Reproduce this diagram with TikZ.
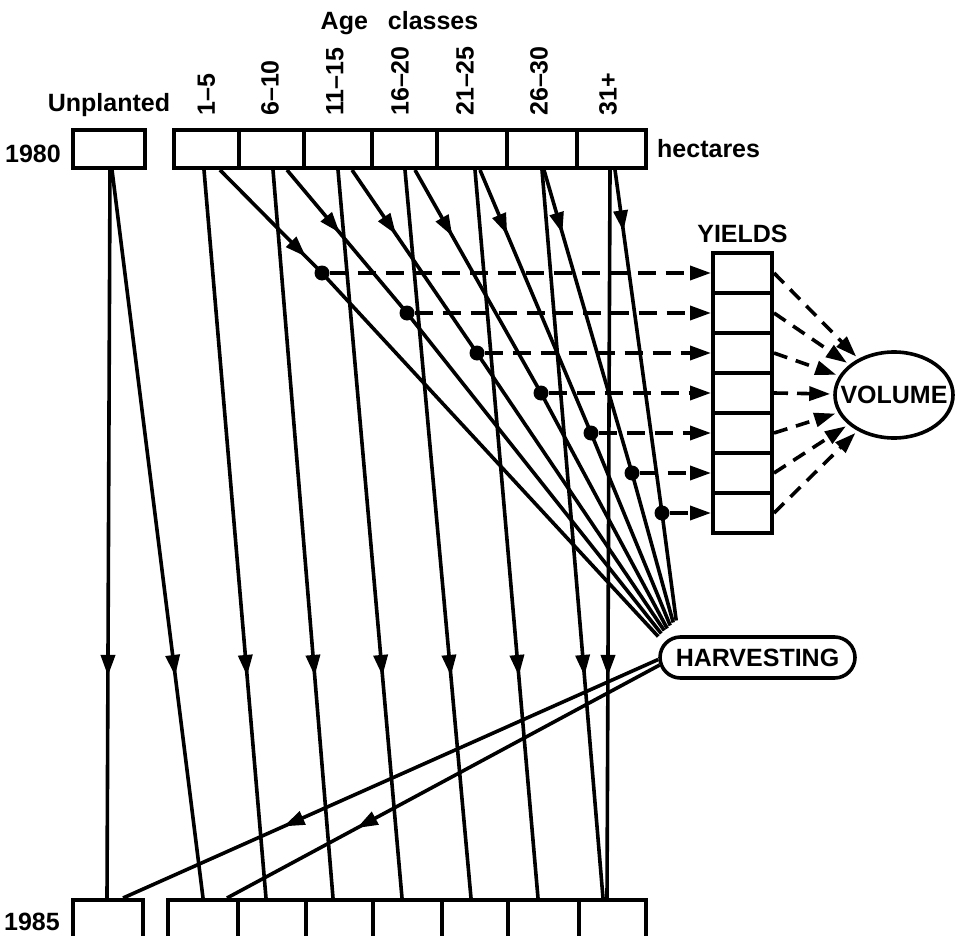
\documentclass[tikz,border=0pt]{standalone}
\usepackage{fontspec}
\setmainfont{Liberation Sans}
\usepackage{tikz}
\usetikzlibrary{positioning,arrows.meta,shapes.geometric,shapes.misc,decorations.markings}

\begin{document}
\begin{tikzpicture}[x=1pt, y=-1pt,
                    every node/.append style = {font=\bfseries\fontsize{25}{29}\selectfont, inner sep=0pt},
                    cell/.style = {draw, line width=4pt, minimum height=38pt},
                    link/.style = {line width=3.6pt},
                    arr/.style = {-{Triangle[length=21pt,width=14pt]}},
                    midarr/.style = {postaction={decorate},
                        decoration={markings, mark=at position #1 with {\arrow{Triangle[length=21pt,width=14pt]}}}},
                    feed/.style = {link, arr, dash pattern=on 18pt off 10pt},
                    junction/.style = {circle, fill, minimum size=15pt}]
    \useasboundingbox (0,0) rectangle (955,936);
    % 1980 row
    \node[cell, minimum width=72pt] (u1) at (109,149) {};
    \foreach \l/\r [count=\k] in {174/239, 239/304, 304/372, 372/437, 437/507, 507/577, 577/646}
        \node[cell, minimum width={(\r-\l)*1pt}] (t\k) at ({(\l+\r)/2},149) {};
    % 1985 row
    \node[cell, minimum width=70pt, minimum height=44pt] (u2) at (108,922) {};
    \foreach \l/\r [count=\k] in {168/238, 238/306, 306/373, 373/442, 442/508, 508/579, 579/646}
        \node[cell, minimum width={(\r-\l)*1pt}, minimum height=44pt] (b\k) at ({(\l+\r)/2},922) {};
    % labels
    \node[anchor=base] (age) at (399.5,30) {Age\hspace{20pt}classes};
    \node[above=16pt of u1, anchor=base] (unpl) {Unplanted};
    \node[left=10pt of u1, yshift=-5pt] (yr80) {1980};
    \node[left=11pt of u2] (yr85) {1985};
    \node[right=9pt of t7] (hect) {hectares};
    \foreach \lab/\o [count=\k] in {1--5/0, 6--10/-1.5, 11--15/-3, 16--20/-4.5, 21--25/-7, 26--30/-3, 31+/-3.5}
        \node[rotate=90, anchor=west] (c\k) at ([xshift=\o pt, yshift=12pt]t\k.north) {\lab};
    % yields, volume, harvesting
    \foreach \k in {1,...,7}
        \node[cell, minimum width=59pt, minimum height=40pt] (y\k) at (742.5,{233+40*\k}) {};
    \node[above=8pt of y1] (yld) {YIELDS};
    \node[draw, ellipse, line width=3.6pt, minimum width=118pt, minimum height=86pt] (vol) at (894,395) {};
    \node (voltxt) at (vol) {VOLUME};
    \node[draw, rounded rectangle, line width=3.6pt, minimum width=195pt, minimum height=41pt] (harv) at (757.5,657.5) {HARVESTING};
    % ageing
    \foreach \s/\a/\e/\b in {u1/1/u2/-1, u1/3/b1/0, t1/-2.5/b2/-6, t2/1.5/b3/-6.5, t3/0/b4/-5.5,
                             t4/0.5/b5/-4, t5/3/b6/-5.5, t6/0/b7/-9.5, t7/-1.5/b7/-5.5}
        \draw[link, midarr=0.695] ([xshift=\a pt]\s.south) -- ([xshift=\b pt]\e.north);
    % cutting
    \foreach \x [count=\k] in {322,407,477,541,591,632,662}
        \node[junction] (d\k) at (\x,{233+40*\k}) {};
    \foreach \o/\p/\dx/\dy [count=\k] in {13.5/122/0/21, 15.5/82/3/24, 14/78/6/27, 10.5/76/9/29,
                                          8/70/12/32, 2/66/15/35, 3.5/62/18/37}
        \draw[link, midarr=\p pt] ([xshift=\o pt]t\k.south) -- (d\k.center) -- ([xshift=\dx pt, yshift=\dy pt]harv.west);
    \foreach \k in {1,...,7} {
        \draw[feed] (d\k) -- (y\k.west);
        \draw[link, arr, dash pattern=on 14pt off 9pt, shorten >=3pt] (y\k.east) -- (vol);
    }
    % replanting
    \draw[link, midarr=0.7] ([yshift=-2pt]harv.west) -- ([xshift=15pt]u2.north);
    \draw[link, midarr=0.7] ([xshift=1.5pt, yshift=-7.5pt]harv.west) -- ([xshift=24pt]b1.north);
\end{tikzpicture}
\end{document}
